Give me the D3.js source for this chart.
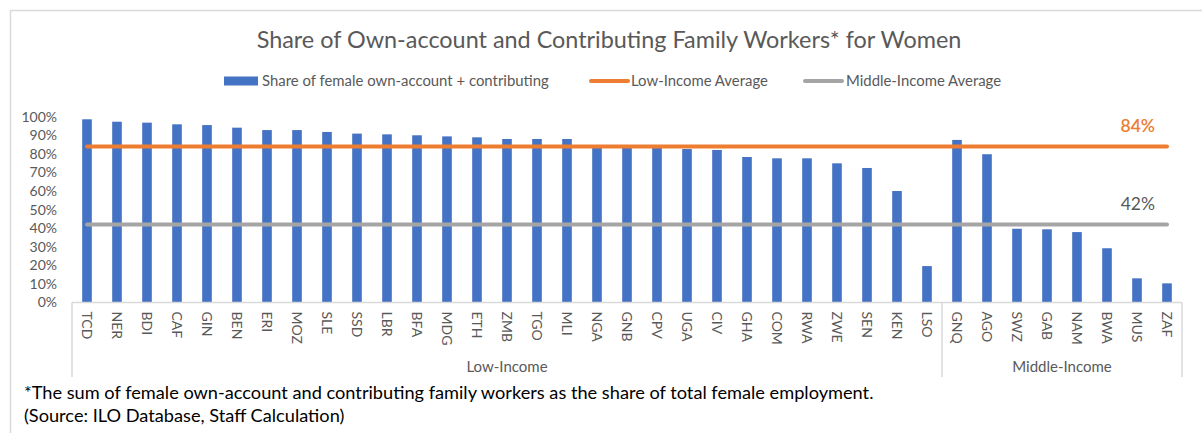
<!DOCTYPE html>
<html>
<head>
<meta charset="utf-8">
<script src="https://cdn.jsdelivr.net/npm/d3@7"></script>
<style>
  html, body { margin: 0; padding: 0; background: #fff; }
  svg { display: block; font-family: Lato, "Open Sans", sans-serif; }
</style>
</head>
<body>
<div id="chart"></div>
<script>
// data
var lowIncome = ["TCD","NER","BDI","CAF","GIN","BEN","ERI","MOZ","SLE","SSD","LBR","BFA","MDG","ETH","ZMB",
                 "TGO","MLI","NGA","GNB","CPV","UGA","CIV","GHA","COM","RWA","ZWE","SEN","KEN","LSO"];
var middleIncome = ["GNQ","AGO","SWZ","GAB","NAM","BWA","MUS","ZAF"];
var lowValues = [98.6,97.3,96.8,95.9,95.5,94.1,92.8,92.8,91.8,90.9,90.5,90.0,89.4,88.9,88.0,
                 88.0,88.0,84.5,84.3,84.0,82.6,82.1,78.3,77.6,77.6,74.9,72.4,60.0,19.6];
var middleValues = [87.5,79.8,39.7,39.4,37.9,29.2,13.0,10.3];
var lowAverage = 84;
var middleAverage = 42;
var yTicks = [0,10,20,30,40,50,60,70,80,90,100];
var groupNames = ["Low-Income", "Middle-Income"];

var W = 1202, H = 433;
var textCol = "#595959", axisCol = "#D9D9D9";
var blue = "#4472C4", orange = "#ED7D31", gray = "#A5A5A5";

var categories = lowIncome.concat(middleIncome);
var dataset = categories.map(function(c, i) {
	return { name: c, value: i < lowIncome.length ? lowValues[i] : middleValues[i - lowIncome.length] };
});

var svg = d3.select("#chart").append("svg")
			.attr("width", W)
			.attr("height", H);

// chart frame (top + left edge visible)
svg.append("path")
	.attr("d", "M10.5," + H + "V10.5H" + W)
	.attr("fill", "none")
	.attr("stroke", axisCol)
	.attr("stroke-width", 1.5);

// Title
svg.append("text")
	.attr("x", 609).attr("y", 48)
	.attr("text-anchor", "middle")
	.attr("fill", textCol)
	.style("font-size", "23.4px")
	.text("Share of Own-account and Contributing Family Workers* for Women");

// Scales
var xScale = d3.scaleBand()
			.domain(categories)
			.range([72, 1182])
			.paddingInner(0.68)
			.paddingOuter(0.34);

var yScale = d3.scaleLinear()
			.domain([0, 100])
			.range([302.5, 116.7]);

// y labels, no axis line
var yAxis = d3.axisLeft(yScale)
			.tickValues(yTicks)
			.tickSize(0)
			.tickPadding(0)
			.tickFormat(function(d) { return d + "%"; });

var gy = svg.append("g")
	.attr("transform", "translate(57,0)")
	.call(yAxis);
gy.select(".domain").remove();
gy.selectAll("text")
	.attr("fill", textCol)
	.style("font-size", "14px")
	.style("font-family", "Lato, sans-serif");

// Bars
svg.selectAll("rect.bar")
	.data(dataset)
	.enter()
	.append("rect")
	.attr("class", "bar")
	.attr("x", function(d) { return xScale(d.name); })
	.attr("y", function(d) { return yScale(d.value); })
	.attr("width", xScale.bandwidth())
	.attr("height", function(d) { return yScale(0) - yScale(d.value); })
	.attr("fill", blue);

// category axis
var x0 = xScale.range()[0], x1 = xScale.range()[1];
var split = xScale(middleIncome[0]) - xScale.step() * xScale.paddingInner() / 2;
var y0 = yScale(0);

svg.append("line")
	.attr("x1", x0).attr("x2", x1)
	.attr("y1", y0).attr("y2", y0)
	.attr("stroke", axisCol).attr("stroke-width", 1.5);

[x0, split, x1].forEach(function(x) {
	svg.append("line")
		.attr("x1", x).attr("x2", x)
		.attr("y1", y0).attr("y2", 377)
		.attr("stroke", axisCol).attr("stroke-width", 1.5);
});

svg.selectAll("text.cat")
	.data(categories)
	.enter()
	.append("text")
	.attr("class", "cat")
	.attr("transform", function(d) {
		return "translate(" + (xScale(d) + xScale.bandwidth() / 2) + "," + (y0 + 9) + ") rotate(90)";
	})
	.attr("dy", "0.35em")
	.attr("fill", textCol)
	.style("font-size", "14px")
	.text(function(d) { return d; });

svg.selectAll("text.group")
	.data([[x0, split], [split, x1]])
	.enter()
	.append("text")
	.attr("class", "group")
	.attr("x", function(d) { return (d[0] + d[1]) / 2; })
	.attr("y", 372)
	.attr("text-anchor", "middle")
	.attr("fill", textCol)
	.style("font-size", "15px")
	.text(function(d, i) { return groupNames[i]; });

// average lines
var xa = xScale(categories[0]) + xScale.bandwidth() / 2;
var xb = xScale(categories[categories.length - 1]) + xScale.bandwidth() / 2;

[[lowAverage, orange, orange], [middleAverage, gray, textCol]].forEach(function(a) {
	svg.append("line")
		.attr("x1", xa).attr("x2", xb)
		.attr("y1", yScale(a[0])).attr("y2", yScale(a[0]))
		.attr("stroke", a[1])
		.attr("stroke-width", 4)
		.attr("stroke-linecap", "round");
	svg.append("text")
		.attr("x", 1155)
		.attr("y", yScale(a[0]) - 14)
		.attr("text-anchor", "end")
		.attr("fill", a[2])
		.style("font-size", "17.5px")
		.style("font-weight", a[0] === lowAverage ? 600 : 400)
		.text(a[0] + "%");
});

// Legend
var legend = svg.append("g").attr("transform", "translate(0,81)");
legend.append("rect")
	.attr("x", 224).attr("y", -4.5)
	.attr("width", 34).attr("height", 9)
	.attr("fill", blue);
legend.append("line")
	.attr("x1", 591).attr("x2", 628)
	.attr("stroke", orange).attr("stroke-width", 4).attr("stroke-linecap", "round");
legend.append("line")
	.attr("x1", 805).attr("x2", 842)
	.attr("stroke", gray).attr("stroke-width", 4).attr("stroke-linecap", "round");
legend.selectAll("text")
	.data([[262, "Share of female own-account + contributing"],
	       [631, "Low-Income Average"],
	       [846, "Middle-Income Average"]])
	.enter()
	.append("text")
	.attr("x", function(d) { return d[0]; })
	.attr("dy", "0.35em")
	.attr("fill", textCol)
	.style("font-size", "14.9px")
	.text(function(d) { return d[1]; });

// footnote
svg.append("text")
	.attr("x", 24).attr("y", 399)
	.attr("fill", "#000")
	.style("font-size", "18.2px")
	.text("*The sum of female own-account and contributing family workers as the share of total female employment.");
svg.append("text")
	.attr("x", 24).attr("y", 422)
	.attr("fill", "#000")
	.style("font-size", "18.2px")
	.text("(Source: ILO Database, Staff Calculation)");
</script>
</body>
</html>
